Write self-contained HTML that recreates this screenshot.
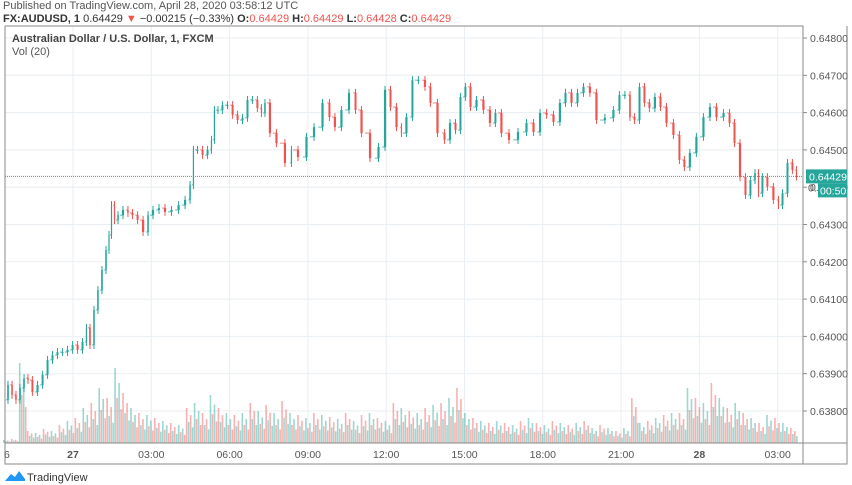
<!DOCTYPE html>
<html><head><meta charset="utf-8">
<style>
body{margin:0;width:852px;height:485px;background:#fff;overflow:hidden;font-family:"Liberation Sans",sans-serif;}
svg{position:absolute;left:0;top:0}
</style></head>
<body>
<svg id="c" width="852" height="485">
<text x="3" y="9" font-size="11" fill="#555">Published on TradingView.com, April 28, 2020 03:58:12 UTC</text>
<text x="3" y="22" font-size="11" fill="#333"><tspan font-weight="bold">FX:AUDUSD, 1</tspan> 0.64429 <tspan fill="#ef5350">▼</tspan> −0.00215 (−0.33%) <tspan font-weight="bold">O:</tspan><tspan fill="#ef5350">0.64429</tspan> <tspan font-weight="bold">H:</tspan><tspan fill="#ef5350">0.64429</tspan> <tspan font-weight="bold">L:</tspan><tspan fill="#ef5350">0.64428</tspan> <tspan font-weight="bold">C:</tspan><tspan fill="#ef5350">0.64429</tspan></text>
<g id="grid"></g>
<g id="vol"></g>
<g id="candles"></g>
<g id="axes"></g>
<text x="12" y="42" font-size="11" font-weight="bold" fill="#444">Australian Dollar / U.S. Dollar, 1, FXCM</text>
<text x="12" y="55" font-size="11" fill="#555">Vol (20)</text>
<g>
<path d="M5 481 L11 474 L15 477 L19 471 L25 479 L25 481 Z" fill="#2196f3"/>
<text x="27" y="481" font-size="11" fill="#333">TradingView</text>
</g>
</svg>
<script>
const times=[-2.57,-2.41,-2.26,-2.11,-1.95,-1.80,-1.65,-1.46,-1.26,-1.07,-0.88,-0.69,-0.50,-0.31,-0.11,0.08,0.27,0.46,0.57,0.73,0.88,1.03,1.19,1.34,1.42,1.53,1.65,1.80,2.03,2.18,2.38,2.57,2.80,2.95,3.18,3.41,3.64,3.91,4.18,4.41,4.56,4.67,4.87,5.06,5.25,5.36,5.48,5.63,5.82,6.02,6.21,6.40,6.59,6.78,6.97,7.16,7.28,7.43,7.66,7.93,8.31,8.43,8.81,9.08,9.39,9.73,9.92,10.15,10.42,10.73,10.92,11.19,11.57,11.84,12.07,12.26,12.53,12.64,12.91,13.10,13.37,13.60,13.79,14.14,14.33,14.56,14.75,14.94,15.13,15.33,15.59,15.86,16.09,16.28,16.55,16.86,17.24,17.51,17.78,18.01,18.28,18.54,18.77,18.97,19.23,19.43,19.69,19.92,20.19,20.57,20.84,21.03,21.26,21.42,21.61,21.80,21.99,22.18,22.41,22.61,22.87,23.14,23.33,23.52,23.75,24.02,24.29,24.52,24.79,25.06,25.25,25.44,25.67,25.86,26.05,26.21,26.32,26.51,26.70,26.97,27.09,27.28,27.47,27.66,27.78];
const closes=[.63830,.63870,.63843,.63830,.63862,.63888,.63883,.63851,.63870,.63897,.63937,.63950,.63958,.63958,.63964,.63977,.63964,.63985,.64023,.63977,.64071,.64124,.64178,.64232,.64272,.64352,.64312,.64325,.64339,.64331,.64325,.64312,.64280,.64325,.64339,.64344,.64334,.64339,.64352,.64366,.64406,.64500,.64500,.64486,.64500,.64527,.64607,.64607,.64620,.64620,.64594,.64580,.64586,.64634,.64634,.64612,.64599,.64626,.64545,.64518,.64465,.64500,.64481,.64535,.64561,.64626,.64588,.64561,.64607,.64653,.64607,.64545,.64478,.64508,.64661,.64615,.64561,.64545,.64588,.64687,.64687,.64669,.64626,.64545,.64527,.64572,.64553,.64642,.64669,.64615,.64634,.64607,.64572,.64599,.64545,.64527,.64548,.64572,.64548,.64599,.64594,.64575,.64626,.64653,.64626,.64653,.64669,.64653,.64580,.64586,.64607,.64647,.64647,.64588,.64580,.64669,.64626,.64612,.64642,.64615,.64572,.64540,.64473,.64454,.64492,.64535,.64588,.64615,.64588,.64599,.64572,.64518,.64427,.64379,.64419,.64438,.64384,.64427,.64401,.64366,.64352,.64384,.64465,.64446,.64429];
const volumes=[3,4,80,12,10,14,12,18,22,25,35,40,55,45,75,50,35,30,28,25,22,20,18,35,40,30,48,35,30,28,30,40,32,38,30,42,30,28,25,30,28,26,24,30,22,28,30,25,22,40,35,32,30,35,38,40,45,55,30,25,22,20,22,20,18,22,25,20,18,22,20,18,20,22,15,18,15,12,15,45,20,22,25,28,30,30,55,45,40,60,45,35,40,30,25,20,28,25,20,15];
const priceTicks=[0.648,0.647,0.646,0.645,0.644,0.643,0.642,0.641,0.640,0.639,0.638];
const timeTicks=[[-3,"6"],[0,"27"],[3,"03:00"],[6,"06:00"],[9,"09:00"],[12,"12:00"],[15,"15:00"],[18,"18:00"],[21,"21:00"],[24,"28"],[27,"03:00"]];
const lastPrice=0.64429;
const NS="http://www.w3.org/2000/svg";
const L=5,R=803,T=26,B=443;
const X=t=>73+t*26.1;
const Y=p=>38+(0.648-p)*37300;
const VX=i=>6+i*7.95;
function mk(parent,tag,attrs){const e=document.createElementNS(NS,tag);for(const k in attrs)e.setAttribute(k,attrs[k]);document.getElementById(parent).appendChild(e);return e;}
priceTicks.forEach(p=>{
const g=mk('grid','line',{x1:L,x2:R,y1:Y(p),y2:Y(p),stroke:'#e8eef2','stroke-width':1});


});
timeTicks.forEach(([t])=>{if(t<=-3)return;
const g=mk('grid','line',{x1:X(t),x2:X(t),y1:T,y2:B,stroke:'#e8eef2','stroke-width':1});


});
volumes.forEach((v,i)=>{
const up=i%3!==1;
const fr=[1,0.6,0.8,0.45];
fr.forEach((f,k)=>{
const c=(k+i)%2===0?'#26a69a':'#ef5350';
const b=mk('vol','rect',{x:VX(i)-3+k*2,y:B-v*f,width:1.6,height:v*f,fill:c,opacity:0.45});


});
});
for(let i=1;i<closes.length;i++){
const o=closes[i-1],c=closes[i];
const x0=X(times[i-1]),x1=X(times[i]);
const up=c>=o;const col=up?'#26a69a':'#ef5350';
const w=Math.min(2.2,Math.max(1.2,(x1-x0)*0.4));const cx=(x0+x1)/2;
const yt=Math.min(Y(o),Y(c)),yb=Math.max(Y(o),Y(c));
const wk=mk('candles','line',{x1:cx,x2:cx,y1:yt-4,y2:yb+4,stroke:col,'stroke-width':1});


const bd=mk('candles','rect',{x:cx-w/2,y:yt,width:w,height:Math.max(1,yb-yt),fill:col});


const cn=mk('candles','line',{x1:x0,x2:cx,y1:Y(o),y2:Y(o),stroke:col,'stroke-width':1,opacity:0.7});


}
const f=mk('axes','path',{d:`M${L} ${T}H${R}V464M${L} ${T}V464H847V${T}M${R} ${B}H847M${L} ${B}H${R}`,fill:'none',stroke:'#8a8a8a','stroke-width':1});


priceTicks.forEach(p=>{
const tk=mk('axes','line',{x1:R,x2:R+4,y1:Y(p),y2:Y(p),stroke:'#8a8a8a'});


const tx=mk('axes','text',{x:810,y:Y(p)+4,'font-size':10.5,fill:'#555'});
tx.textContent=p.toFixed(5);


});
timeTicks.forEach(([t,s])=>{
const bold=(s==="27"||s==="28");
const tx=mk('axes','text',{x:s==="6"?4:X(t),y:458,'font-size':10.5,fill:'#555','text-anchor':s==="6"?'start':'middle','font-weight':bold?'bold':'normal'});
tx.textContent=s;


});
const ly=Y(lastPrice);
const dl=mk('axes','line',{x1:L,x2:R,y1:ly,y2:ly,stroke:'#26a69a','stroke-dasharray':'1,1'});


const bx=mk('axes','rect',{x:806,y:ly-7,width:41,height:14,fill:'#26a69a'});


const bt=mk('axes','text',{x:809,y:ly+4,'font-size':10.5,fill:'#fff'});
bt.textContent=lastPrice.toFixed(5);


const pt=mk('axes','text',{x:808,y:ly+15,'font-size':10.5,fill:'#555'});
pt.textContent="0.";


const cb=mk('axes','rect',{x:818,y:ly+7,width:29,height:14,fill:'#26a69a'});


const ct=mk('axes','text',{x:820,y:ly+18,'font-size':10.5,fill:'#fff'});
ct.textContent="00:50";


</script>
</body></html>
